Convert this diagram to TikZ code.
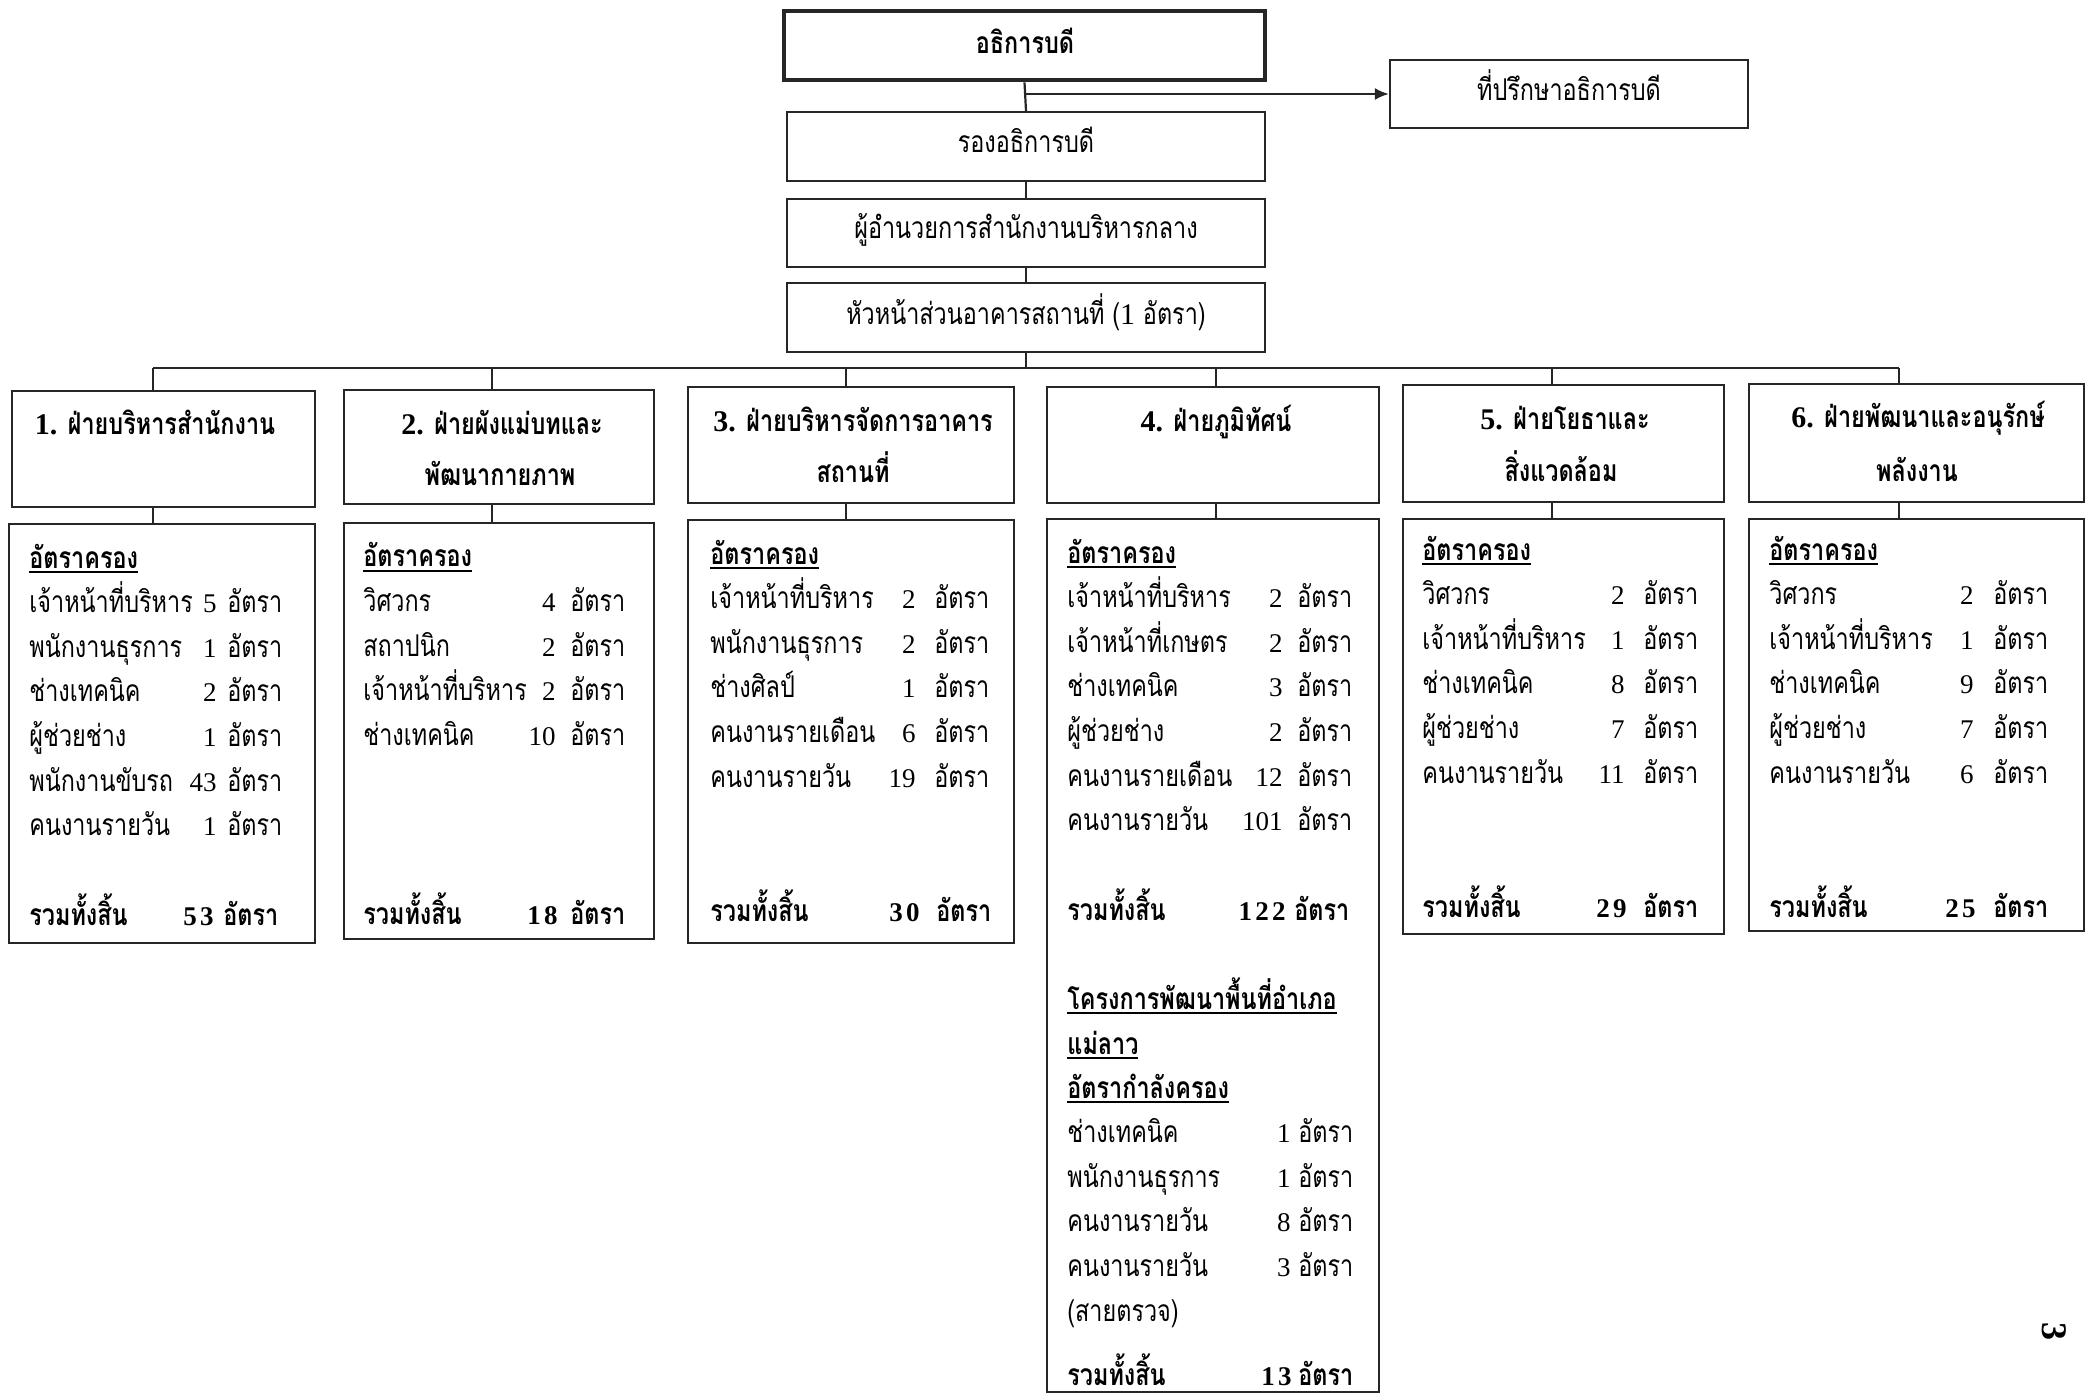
\documentclass[tikz,border=0pt]{standalone}
\usepackage{fontspec}
\usetikzlibrary{arrows.meta,fit}
\newfontfamily\thai[Script=Thai, FakeStretch=0.78]{Loma}
\newfontfamily\dg{Liberation Serif}
\newfontfamily\dgw[LetterSpace=12]{Liberation Serif}
\newcommand\uln[1]{\setbox0\hbox{#1}\rlap{\rule[-2.5pt]{\wd0}{0.9pt}}\box0}
\newcommand\bodyfont{\thai\fontsize{15}{18}\selectfont}
\newcommand\boldfont{\thai\bfseries\fontsize{15}{18}\selectfont}
\newcommand\rrow[7]{%
  \node[tx, anchor=base west] (#1a) at (#3,#2) {#4};
  \node[num, anchor=base east] (#1b) at (#5,#2) {#6};
  \node[tx, anchor=base west] (#1c) at (#7,#2) {อัตรา};
}
\newcommand\trow[7]{%
  \node[hd, anchor=base west] (#1a) at (#3,#2) {#4};
  \node[num, font=\dgw\bfseries\fontsize{13.5}{16}\selectfont, anchor=base east] (#1b) at (#5,#2) {#6};
  \node[hd, anchor=base west] (#1c) at (#7,#2) {อัตรา};
}
\tikzset{
  box/.style={draw=black!85, line width=1.1pt, inner sep=0pt},
  topbox/.style={box, line width=2.4pt},
  ln/.style={draw=black!85, line width=1.1pt},
  tx/.style={inner sep=0pt, font=\bodyfont, text=black},
  hd/.style={inner sep=0pt, font=\boldfont, text=black},
  num/.style={inner sep=0pt, font=\dg\fontsize{13.5}{16}\selectfont, text=black},
}
\begin{document}
\begin{tikzpicture}[x=0.5pt,y=-0.5pt]
\useasboundingbox (0,0) rectangle (2092,1395);
% top chain
\node[topbox, fit={(784,11) (1265,80)}] (A) {};
\node[box, fit={(1390,60) (1748,128)}] (adv) {};
\node[box, fit={(787,112) (1265,181)}] (B) {};
\node[box, fit={(787,199) (1265,267)}] (C) {};
\node[box, fit={(787,283) (1265,352)}] (D) {};
\node[hd, anchor=base] (At) at (1025,54) {อธิการบดี};
\node[tx, anchor=base] (advt) at (1569,101) {ที่ปรึกษาอธิการบดี};
\node[tx, anchor=base] (Bt) at (1026,153) {รองอธิการบดี};
\node[tx, anchor=base] (Ct) at (1026,239) {ผู้อำนวยการสำนักงานบริหารกลาง};
\node[tx, anchor=base] (Dt) at (1026,325) {หัวหน้าส่วนอาคารสถานที่ ({\dg 1} อัตรา)};
\draw[ln] (A.south) -- (B.north);
\draw[ln] (B.south) -- (C.north);
\draw[ln] (C.south) -- (D.north);
\draw[ln, -{Latex[length=7pt,width=6pt]}] (A.south |- adv.west) -- (adv.west);
% division boxes
\node[box, fit={(12,391) (315,507)}] (k1) {};
\node[box, fit={(344,390) (654,504)}] (k2) {};
\node[box, fit={(688,387) (1014,503)}] (k3) {};
\node[box, fit={(1047,387) (1379,503)}] (k4) {};
\node[box, fit={(1403,385) (1724,502)}] (k5) {};
\node[box, fit={(1749,384) (2084,502)}] (k6) {};
% rate boxes
\node[box, fit={(9,524) (315,943)}] (r1) {};
\node[box, fit={(344,523) (654,939)}] (r2) {};
\node[box, fit={(688,520) (1014,943)}] (r3) {};
\node[box, fit={(1047,519) (1379,1392)}] (r4) {};
\node[box, fit={(1403,519) (1724,934)}] (r5) {};
\node[box, fit={(1749,519) (2084,931)}] (r6) {};
% bus
\coordinate (t1) at (153,368);
\coordinate (t2) at (492,368);
\coordinate (t3) at (846,368);
\coordinate (t4) at (1216,368);
\coordinate (t5) at (1552,368);
\coordinate (t6) at (1899,368);
\draw[ln] (D.south) -- (D.south |- t1);
\draw[ln] (t1) -- (t6);
\foreach \i in {1,...,6}{
  \draw[ln] (t\i) -- (t\i |- k\i.north);
  \draw[ln] (t\i |- k\i.south) -- (t\i |- r\i.north);
}
% division headings
\node[hd, anchor=base] (h1a) at (155,435) {{\dg\bfseries 1.} ฝ่ายบริหารสำนักงาน};
\node[hd, anchor=base] (h2a) at (502,435) {{\dg\bfseries 2.} ฝ่ายผังแม่บทและ};
\node[hd, anchor=base] (h2b) at (500,486) {พัฒนากายภาพ};
\node[hd, anchor=base] (h3a) at (853,432) {{\dg\bfseries 3.} ฝ่ายบริหารจัดการอาคาร};
\node[hd, anchor=base] (h3b) at (853,483) {สถานที่};
\node[hd, anchor=base] (h4a) at (1216,432) {{\dg\bfseries 4.} ฝ่ายภูมิทัศน์};
\node[hd, anchor=base] (h5a) at (1565,430) {{\dg\bfseries 5.} ฝ่ายโยธาและ};
\node[hd, anchor=base] (h5b) at (1561,481) {สิ่งแวดล้อม};
\node[hd, anchor=base] (h6a) at (1918,428) {{\dg\bfseries 6.} ฝ่ายพัฒนาและอนุรักษ์};
\node[hd, anchor=base] (h6b) at (1917,481) {พลังงาน};
% box 1
\node[hd, anchor=base west] (u1) at (29,568) {\uln{อัตราครอง}};
\foreach \l/\n [count=\i] in {เจ้าหน้าที่บริหาร/5, พนักงานธุรการ/1, ช่างเทคนิค/2, ผู้ช่วยช่าง/1, พนักงานขับรถ/43, คนงานรายวัน/1}{
  \pgfmathsetmacro\yy{568+44.6*\i}
  \rrow{q1\i}{\yy}{29}{\l}{217}{\n}{227}
}
\trow{z1}{925}{29}{รวมทั้งสิ้น}{214}{53}{223}
% box 2
\node[hd, anchor=base west] (u2) at (363,567) {\uln{อัตราครอง}};
\foreach \l/\n [count=\i] in {วิศวกร/4, สถาปนิก/2, เจ้าหน้าที่บริหาร/2, ช่างเทคนิค/10}{
  \pgfmathsetmacro\yy{567+44.6*\i}
  \rrow{q2\i}{\yy}{363}{\l}{556}{\n}{570}
}
\trow{z2}{924}{363}{รวมทั้งสิ้น}{558}{18}{570}
% box 3
\node[hd, anchor=base west] (u3) at (710,564) {\uln{อัตราครอง}};
\foreach \l/\n [count=\i] in {เจ้าหน้าที่บริหาร/2, พนักงานธุรการ/2, ช่างศิลป์/1, คนงานรายเดือน/6, คนงานรายวัน/19}{
  \pgfmathsetmacro\yy{564+44.6*\i}
  \rrow{q3\i}{\yy}{710}{\l}{916}{\n}{934}
}
\trow{z3}{921}{710}{รวมทั้งสิ้น}{920}{30}{936}
% box 4
\node[hd, anchor=base west] (u4) at (1067,563) {\uln{อัตราครอง}};
\foreach \l/\n [count=\i] in {เจ้าหน้าที่บริหาร/2, เจ้าหน้าที่เกษตร/2, ช่างเทคนิค/3, ผู้ช่วยช่าง/2, คนงานรายเดือน/12, คนงานรายวัน/101}{
  \pgfmathsetmacro\yy{563+44.6*\i}
  \rrow{q4\i}{\yy}{1067}{\l}{1283}{\n}{1297}
}
\trow{z4}{920}{1067}{รวมทั้งสิ้น}{1286}{122}{1294}
\node[hd, anchor=base west] (p1) at (1067,1009) {\uln{โครงการพัฒนาพื้นที่อำเภอ}};
\node[hd, anchor=base west] (p2) at (1067,1054) {\uln{แม่ลาว}};
\node[hd, anchor=base west] (p3) at (1067,1098) {\uln{อัตรากำลังครอง}};
\foreach \l/\n [count=\i] in {ช่างเทคนิค/1, พนักงานธุรการ/1, คนงานรายวัน/8, คนงานรายวัน/3}{
  \pgfmathsetmacro\yy{1098+44.6*\i}
  \rrow{q7\i}{\yy}{1067}{\l}{1291}{\n}{1298}
}
\node[tx, anchor=base west] (p4) at (1067,1321) {(สายตรวจ)};
\trow{z7}{1385}{1067}{รวมทั้งสิ้น}{1292}{13}{1298}
% box 5
\node[hd, anchor=base west] (u5) at (1422,560) {\uln{อัตราครอง}};
\foreach \l/\n [count=\i] in {วิศวกร/2, เจ้าหน้าที่บริหาร/1, ช่างเทคนิค/8, ผู้ช่วยช่าง/7, คนงานรายวัน/11}{
  \pgfmathsetmacro\yy{560+44.6*\i}
  \rrow{q5\i}{\yy}{1422}{\l}{1625}{\n}{1643}
}
\trow{z5}{917}{1422}{รวมทั้งสิ้น}{1627}{29}{1643}
% box 6
\node[hd, anchor=base west] (u6) at (1769,560) {\uln{อัตราครอง}};
\foreach \l/\n [count=\i] in {วิศวกร/2, เจ้าหน้าที่บริหาร/1, ช่างเทคนิค/9, ผู้ช่วยช่าง/7, คนงานรายวัน/6}{
  \pgfmathsetmacro\yy{560+44.6*\i}
  \rrow{q6\i}{\yy}{1769}{\l}{1974}{\n}{1993}
}
\trow{z6}{917}{1769}{รวมทั้งสิ้น}{1976}{25}{1993}
% page number
\node[num, font=\dg\bfseries\fontsize{18}{20}\selectfont, rotate=-90] (pg) at (2054,1331) {3};
\end{tikzpicture}
\end{document}
